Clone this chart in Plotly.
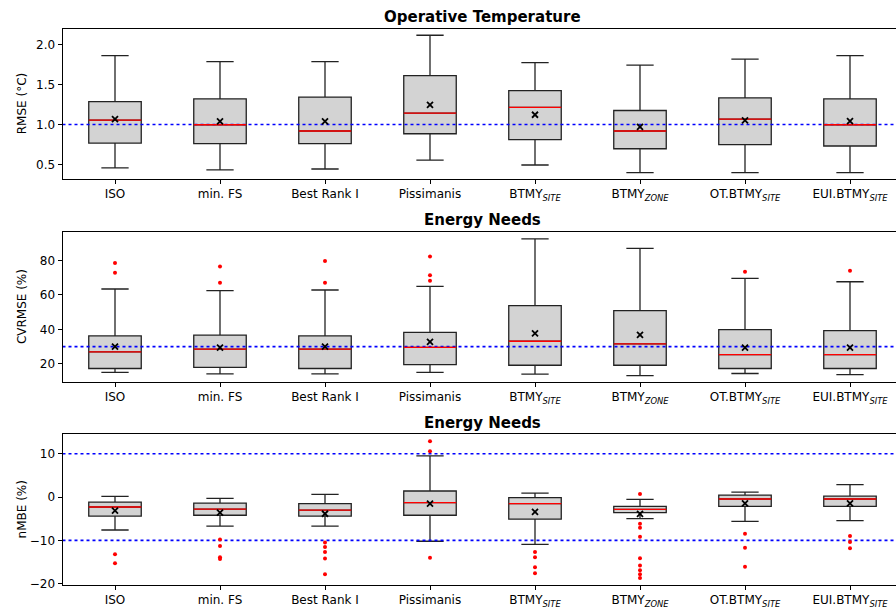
import plotly.graph_objects as go

# Method labels (positions 1..8 on every panel)
methods = ["ISO", "min. FS", "Best Rank I", "Pissimanis",
           "BTMY<sub><i>SITE</i></sub>", "BTMY<sub><i>ZONE</i></sub>",
           "OT.BTMY<sub><i>SITE</i></sub>", "EUI.BTMY<sub><i>SITE</i></sub>"]
positions = [1, 2, 3, 4, 5, 6, 7, 8]

# Operative temperature RMSE (°C)
ot_low = [0.457, 0.432, 0.444, 0.556, 0.494, 0.398, 0.398, 0.398]
ot_q1 = [0.768, 0.760, 0.760, 0.884, 0.810, 0.697, 0.747, 0.731]
ot_med = [1.055, 0.996, 0.918, 1.142, 1.212, 0.918, 1.067, 0.996]
ot_q3 = [1.286, 1.320, 1.341, 1.610, 1.423, 1.174, 1.332, 1.320]
ot_high = [1.859, 1.785, 1.785, 2.113, 1.772, 1.740, 1.814, 1.859]
ot_mean = [1.067, 1.037, 1.037, 1.245, 1.121, 0.971, 1.050, 1.042]
ot_out = [[], [], [], [], [], [], [], []]

# Energy needs CVRMSE (%)
cv_low = [15.0, 14.2, 14.2, 15.0, 14.0, 13.2, 14.4, 13.8]
cv_q1 = [17.3, 18.0, 17.3, 19.6, 19.2, 19.2, 17.3, 17.3]
cv_med = [26.9, 28.5, 28.5, 29.6, 33.1, 31.6, 25.4, 25.4]
cv_q3 = [36.2, 36.6, 36.2, 38.3, 53.7, 50.8, 39.8, 39.3]
cv_high = [63.4, 62.4, 62.8, 64.9, 92.5, 86.9, 69.6, 67.6]
cv_mean = [30.0, 29.4, 30.0, 32.7, 37.7, 36.8, 29.4, 29.4]
cv_out = [[78.4, 72.8], [76.5, 67.0], [79.6, 67.0], [82.3, 71.3, 68.2],
          [], [], [73.4], [74.0]]

# Energy needs nMBE (%)
nm_low = [-7.6, -6.7, -6.7, -10.2, -10.9, -5.0, -5.6, -5.45]
nm_q1 = [-4.4, -4.2, -4.4, -4.2, -5.1, -3.6, -2.15, -2.15]
nm_med = [-2.3, -2.8, -3.0, -1.3, -1.5, -2.85, -0.45, -0.45]
nm_q3 = [-1.17, -1.4, -1.5, 1.4, -0.15, -2.15, 0.45, 0.2]
nm_high = [0.15, -0.3, 0.6, 9.5, 0.9, -0.55, 1.15, 2.85]
nm_mean = [-3.15, -3.6, -3.85, -1.5, -3.4, -3.9, -1.45, -1.45]
nm_out = [[-13.2, -15.3], [-9.8, -11.3, -13.9, -14.3],
          [-10.5, -11.5, -12.7, -14.2, -17.8], [12.9, 10.6, -14.0],
          [-12.7, -13.9, -16.2, -17.6],
          [0.7, -6.15, -7.1, -9.15, -14.1, -15.8, -16.9, -17.8, -18.7],
          [-8.45, -11.7, -16.1], [-9.0, -10.4, -11.8]]

panels = [
    dict(title="Operative Temperature", ylabel="RMSE (°C)",
         low=ot_low, q1=ot_q1, med=ot_med, q3=ot_q3, high=ot_high,
         mean=ot_mean, out=ot_out, ref=[1.0],
         yrange=[0.318, 2.187], dtick=0.5, fmt=".1f",
         dom=[0.7020, 0.9512], title_y=0.9718),
    dict(title="Energy Needs", ylabel="CVRMSE (%)",
         low=cv_low, q1=cv_q1, med=cv_med, q3=cv_q3, high=cv_high,
         mean=cv_mean, out=cv_out, ref=[30.0],
         yrange=[9.58, 96.2], dtick=20, fmt="d",
         dom=[0.3647, 0.6133], title_y=0.6343),
    dict(title="Energy Needs", ylabel="nMBE (%)",
         low=nm_low, q1=nm_q1, med=nm_med, q3=nm_q3, high=nm_high,
         mean=nm_mean, out=nm_out, ref=[10.0, -10.0],
         yrange=[-20.3, 14.6], dtick=10, fmt="d",
         dom=[0.0266, 0.2782], title_y=0.2970),
]

W, H = 896, 609
box_w = 0.5
x_left_px = 62.5
px_per_unit = 105.0
x_range = [0.5, 0.5 + (W - x_left_px) / px_per_unit]
title_x = 482.5 / W
font_family = "DejaVu Sans"

fig = go.Figure()
layout = dict(
    width=W, height=H,
    margin=dict(l=0, r=0, t=0, b=0),
    paper_bgcolor="white", plot_bgcolor="white",
    showlegend=False,
    font=dict(family=font_family, size=12, color="black"),
    annotations=[],
)

for i, p in enumerate(panels):
    n = i + 1
    xa = "x" if n == 1 else f"x{n}"
    ya = "y" if n == 1 else f"y{n}"

    # reference threshold lines
    for r in p["ref"]:
        fig.add_trace(go.Scatter(
            x=x_range, y=[r, r], mode="lines", xaxis=xa, yaxis=ya,
            line=dict(color="blue", width=1.6, dash="dot"),
            hoverinfo="skip"))

    fig.add_trace(go.Box(
        x=positions, q1=p["q1"], median=p["med"], q3=p["q3"],
        lowerfence=p["low"], upperfence=p["high"],
        width=box_w, whiskerwidth=0.52, boxpoints=False,
        fillcolor="lightgrey", line=dict(color="#222222", width=1.3),
        xaxis=xa, yaxis=ya))

    # red median lines drawn over the boxes
    mx, my = [], []
    for pos, m in zip(positions, p["med"]):
        mx += [pos - box_w / 2, pos + box_w / 2, None]
        my += [m, m, None]
    fig.add_trace(go.Scatter(
        x=mx, y=my, mode="lines", xaxis=xa, yaxis=ya,
        line=dict(color="red", width=1.3), hoverinfo="skip"))

    # outliers
    ox, oy = [], []
    for pos, vals in zip(positions, p["out"]):
        ox += [pos] * len(vals)
        oy += vals
    if ox:
        fig.add_trace(go.Scatter(
            x=ox, y=oy, mode="markers", xaxis=xa, yaxis=ya,
            marker=dict(color="red", size=4, line=dict(width=0))))

    # means
    fig.add_trace(go.Scatter(
        x=positions, y=p["mean"], mode="markers", xaxis=xa, yaxis=ya,
        marker=dict(symbol="x-thin", size=6, color="black",
                    line=dict(color="black", width=1.8))))

    axis_common = dict(showgrid=False, zeroline=False, showline=True,
                       linecolor="black", linewidth=1, ticks="outside",
                       ticklen=4, tickcolor="black",
                       tickfont=dict(family=font_family, size=12, color="black"))
    layout["xaxis" if n == 1 else f"xaxis{n}"] = dict(
        axis_common, domain=[x_left_px / W, 1.0], range=x_range,
        tickvals=positions, ticktext=methods, mirror=True,
        anchor=ya)
    layout["yaxis" if n == 1 else f"yaxis{n}"] = dict(
        axis_common, domain=p["dom"], range=p["yrange"],
        dtick=p["dtick"], tickformat=p["fmt"], anchor=xa)

    layout["annotations"].append(dict(
        text=f"<b>{p['title']}</b>", xref="paper", yref="paper",
        x=title_x, y=p["title_y"], showarrow=False,
        font=dict(family=font_family, size=15, color="black"),
        xanchor="center", yanchor="middle"))
    layout["annotations"].append(dict(
        text=p["ylabel"], xref="paper", yref="paper",
        x=22 / W, y=sum(p["dom"]) / 2, showarrow=False, textangle=-90,
        font=dict(family=font_family, size=12, color="black"),
        xanchor="center", yanchor="middle"))

fig.update_layout(**layout)
fig.write_html("out.html")
